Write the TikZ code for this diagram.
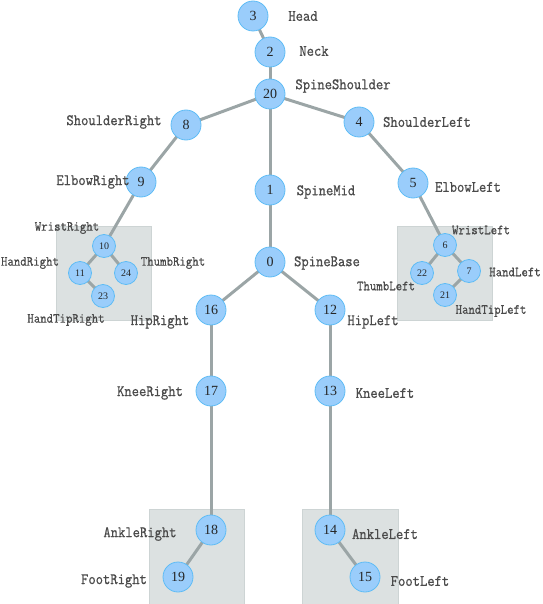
\documentclass[tikz,border=0pt]{standalone}
\usepackage{fontspec}
\setmainfont{Liberation Serif}
\newfontfamily\lblfont{Latin Modern Mono}[FakeBold=0.9]
\pgfdeclarelayer{bg}
\pgfdeclarelayer{edges}
\pgfsetlayers{bg,edges,main}
\definecolor{jfill}{HTML}{9ACDFB}
\definecolor{jdraw}{HTML}{5EBCF5}
\definecolor{bone}{HTML}{9BA5A6}
\definecolor{boxfill}{HTML}{DCE1E1}
\definecolor{boxdraw}{HTML}{CDD4D4}
\definecolor{lbl}{HTML}{4A4A4A}
\newcommand{\tallbox}[1]{\scalebox{1}[1.12]{#1}}
\tikzset{
  joint/.style={circle,fill=jfill,draw=jdraw,line width=0.8pt,minimum size=30pt,inner sep=0pt,font=\fontsize{14}{14}\selectfont,text=black!85},
  sjoint/.style={joint,minimum size=23pt,font=\fontsize{10}{10}\selectfont},
  lab/.style={font=\lblfont\fontsize{14.2}{14.2}\selectfont,text=lbl,inner sep=0pt},
  slab/.style={lab,font=\lblfont\fontsize{12.5}{12.5}\selectfont},
  bonestyle/.style={draw=bone,line width=3pt},
  regionbox/.style={fill=boxfill,draw=boxdraw,line width=0.5pt}
}
\begin{document}
\begin{tikzpicture}[x=1pt,y=-1pt]
\useasboundingbox (0,0) rectangle (542,604);
\begin{pgfonlayer}{bg}
\path[regionbox] (56,226) rectangle (151,320);
\path[regionbox] (397,226) rectangle (492,320);
\path[regionbox] (149,509) rectangle (244,604);
\path[regionbox] (302,509) rectangle (398,604);
\end{pgfonlayer}
% joints
\node[joint] (n3) at (253,16) {3};
\node[joint] (n2) at (270,52) {2};
\node[joint] (n20) at (270,94) {20};
\node[joint] (n8) at (186,125) {8};
\node[joint] (n4) at (359,122) {4};
\node[joint] (n9) at (141,182) {9};
\node[joint] (n1) at (270,190) {1};
\node[joint] (n5) at (413,183) {5};
\node[joint] (n0) at (270,262) {0};
\node[sjoint] (n10) at (104,246) {10};
\node[sjoint] (n11) at (80,273) {11};
\node[sjoint] (n24) at (126,273) {24};
\node[sjoint] (n23) at (103,296) {23};
\node[sjoint] (n6) at (445,245) {6};
\node[sjoint] (n22) at (422,273) {22};
\node[sjoint] (n7) at (469,271) {7};
\node[sjoint] (n21) at (445,295) {21};
\node[joint] (n16) at (211,310) {16};
\node[joint] (n12) at (330,310) {12};
\node[joint] (n17) at (211,391) {17};
\node[joint] (n13) at (330,391) {13};
\node[joint] (n18) at (211,530) {18};
\node[joint] (n19) at (178,577) {19};
\node[joint] (n14) at (330,530) {14};
\node[joint] (n15) at (365,577) {15};
% bones
\begin{pgfonlayer}{edges}
\draw[bonestyle] (n3.center) -- (n2.center);
\draw[bonestyle] (n2.center) -- (n20.center);
\draw[bonestyle] (n20.center) -- (n8.center);
\draw[bonestyle] (n20.center) -- (n4.center);
\draw[bonestyle] (n20.center) -- (n1.center);
\draw[bonestyle] (n8.center) -- (n9.center);
\draw[bonestyle] (n9.center) -- (n10.center);
\draw[bonestyle] (n4.center) -- (n5.center);
\draw[bonestyle] (n5.center) -- (n6.center);
\draw[bonestyle] (n1.center) -- (n0.center);
\draw[bonestyle] (n0.center) -- (n16.center);
\draw[bonestyle] (n0.center) -- (n12.center);
\draw[bonestyle] (n10.center) -- (n11.center);
\draw[bonestyle] (n10.center) -- (n24.center);
\draw[bonestyle] (n11.center) -- (n23.center);
\draw[bonestyle] (n6.center) -- (n22.center);
\draw[bonestyle] (n6.center) -- (n7.center);
\draw[bonestyle] (n7.center) -- (n21.center);
\draw[bonestyle] (n16.center) -- (n17.center);
\draw[bonestyle] (n17.center) -- (n18.center);
\draw[bonestyle] (n18.center) -- (n19.center);
\draw[bonestyle] (n12.center) -- (n13.center);
\draw[bonestyle] (n13.center) -- (n14.center);
\draw[bonestyle] (n14.center) -- (n15.center);
\end{pgfonlayer}
% labels
\node[lab] (l3) at (303,16) {\tallbox{Head}};
\node[lab] (l2) at (314,51) {\tallbox{Neck}};
\node[lab] (l20) at (343,86) {\tallbox{SpineShoulder}};
\node[lab] (l8) at (114,122) {\tallbox{ShoulderRight}};
\node[lab] (l4) at (427,122) {\tallbox{ShoulderLeft}};
\node[lab] (l9) at (93,182) {\tallbox{ElbowRight}};
\node[lab] (l1) at (326,192) {\tallbox{SpineMid}};
\node[lab] (l5) at (468,187) {\tallbox{ElbowLeft}};
\node[slab] (l10) at (67,228) {\tallbox{WristRight}};
\node[slab] (l11) at (30,263) {\tallbox{HandRight}};
\node[slab] (l24) at (173,263) {\tallbox{ThumbRight}};
\node[slab] (l23) at (66,320) {\tallbox{HandTipRight}};
\node[lab] (l0) at (327,263) {\tallbox{SpineBase}};
\node[lab] (l16) at (160,322) {\tallbox{HipRight}};
\node[lab] (l12) at (373,322) {\tallbox{HipLeft}};
\node[slab] (l6) at (481,230) {\tallbox{WristLeft}};
\node[slab] (l7) at (515,272) {\tallbox{HandLeft}};
\node[slab] (l22) at (386,286) {\tallbox{ThumbLeft}};
\node[slab] (l21) at (491,311) {\tallbox{HandTipLeft}};
\node[lab] (l17) at (150,393) {\tallbox{KneeRight}};
\node[lab] (l13) at (385,393) {\tallbox{KneeLeft}};
\node[lab] (l18) at (140,534) {\tallbox{AnkleRight}};
\node[lab] (l14) at (385,534) {\tallbox{AnkleLeft}};
\node[lab] (l19) at (114,581) {\tallbox{FootRight}};
\node[lab] (l15) at (420,581) {\tallbox{FootLeft}};
\end{tikzpicture}
\end{document}
